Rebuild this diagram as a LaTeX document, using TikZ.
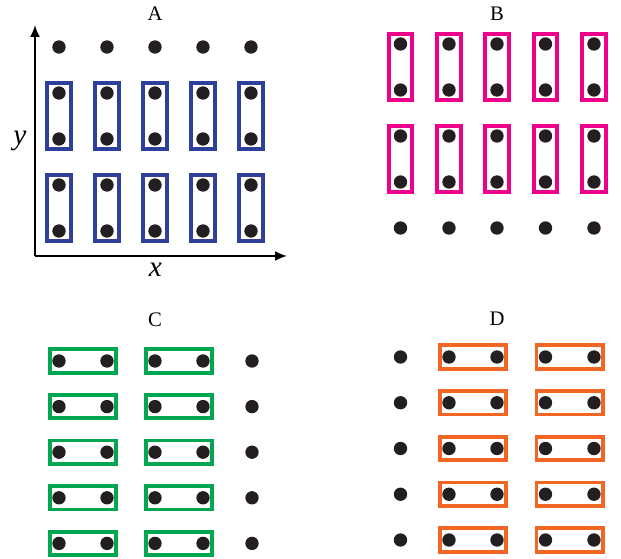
\documentclass[tikz,border=0pt]{standalone}
\usepackage{fontspec}
\setmainfont{Liberation Serif}
\usepackage{xcolor}
\usetikzlibrary{arrows.meta}
\definecolor{dotblack}{RGB}{35,31,32}
\definecolor{boxblue}{RGB}{46,64,154}
\definecolor{boxmagenta}{RGB}{236,0,140}
\definecolor{boxgreen}{RGB}{0,166,81}
\definecolor{boxorange}{RGB}{242,101,34}
\begin{document}
\begin{tikzpicture}[x=0.75pt,y=0.75pt,yscale=-1,xscale=1,
  dot/.style={circle,fill=dotblack,inner sep=0pt,minimum size=10pt},
  pairbox/.style={draw=#1,line width=2.8pt,inner sep=0pt},
  vbox/.style={pairbox=#1,minimum width=17.5pt,minimum height=50pt},
  hbox/.style={pairbox=#1,minimum width=50pt,minimum height=17.5pt},
  panel/.style={font=\fontsize{15.5}{18}\selectfont},
  axislabel/.style={font=\fontsize{22}{26}\selectfont\itshape},
  axis/.style={line width=1.4pt,-{Latex[length=9pt,width=7.5pt]}}]
\useasboundingbox (0,0) rectangle (621,559);

% Panel A
\foreach \c/\x in {1/59,2/107,3/155,4/203,5/251}{
  \foreach \r/\y in {1/47,2/93,3/139,4/185,5/231}
    \node[dot] (a\c\r) at (\x,\y) {};
  \node[vbox=boxblue] (abox\c1) at (\x,116) {};
  \node[vbox=boxblue] (abox\c2) at (\x,208) {};
}
\coordinate (origin) at (35,256);
\coordinate (ytip) at (35,25);
\coordinate (xtip) at (287,256);
\draw[axis] (origin) -- (ytip);
\draw[axis] (origin) -- (xtip);
\node[axislabel] (ylabel) at (20,141) {y};
\node[axislabel] (xlabel) at (155.5,270) {x};
\node[panel] (labelA) at (155,14) {A};

% Panel B
\foreach \c/\x in {1/400.5,2/449,3/497,4/545.5,5/594}{
  \foreach \r/\y in {1/44,2/90,3/136,4/182,5/228}
    \node[dot] (b\c\r) at (\x,\y) {};
  \node[vbox=boxmagenta] (bbox\c1) at (\x,67) {};
  \node[vbox=boxmagenta] (bbox\c2) at (\x,159) {};
}
\node[panel] (labelB) at (497,13.5) {B};

% Panel C
\foreach \r/\y in {1/361,2/406.6,3/452.2,4/497.8,5/543.4}{
  \foreach \c/\x in {1/59,2/107,3/155,4/203,5/252}
    \node[dot] (c\c\r) at (\x,\y) {};
  \node[hbox=boxgreen] (cbox1\r) at (83,\y) {};
  \node[hbox=boxgreen] (cbox2\r) at (179,\y) {};
}
\node[panel] (labelC) at (155,320) {C};

% Panel D
\foreach \r/\y in {1/357,2/402.75,3/448.5,4/494.25,5/540}{
  \foreach \c/\x in {1/400.5,2/449,3/497,4/545.5,5/594}
    \node[dot] (d\c\r) at (\x,\y) {};
  \node[hbox=boxorange] (dbox1\r) at (473,\y) {};
  \node[hbox=boxorange] (dbox2\r) at (569.75,\y) {};
}
\node[panel] (labelD) at (497,319) {D};
\end{tikzpicture}
\end{document}
